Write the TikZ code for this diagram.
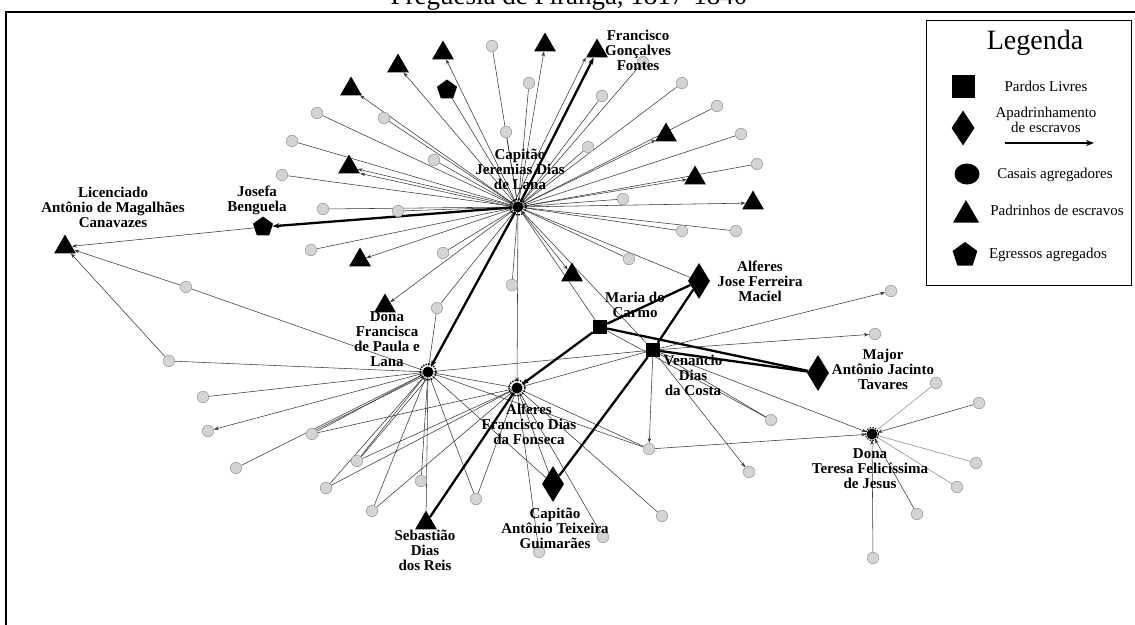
\documentclass[tikz,border=0pt]{standalone}
\usepackage{fontspec}
\setmainfont{Liberation Serif}
\usetikzlibrary{shapes.geometric,arrows.meta,backgrounds}
\begin{document}
\begin{tikzpicture}[x=1pt,y=-1pt,
  gc/.style={circle, fill=black!17, draw=black!38, line width=0.6pt, minimum size=11.5pt, inner sep=0},
  tri/.style={regular polygon, regular polygon sides=3, fill=black, minimum size=25pt, inner sep=0},
  sq/.style={rectangle, fill=black, minimum size=14pt, inner sep=0},
  dia/.style={diamond, fill=black, minimum width=22pt, minimum height=36pt, inner sep=0},
  pent/.style={regular polygon, regular polygon sides=5, fill=black, minimum size=21pt, inner sep=0},
  hub/.style={circle, fill=black, minimum size=11pt, inner sep=0},
  lbl/.style={font=\fontsize{15}{15}\selectfont\bfseries, align=center, inner sep=0},
  legt/.style={font=\fontsize{15}{15}\selectfont, align=center, inner sep=0},
  ed/.style={draw=black!78, line width=0.55pt},
  edl/.style={draw=black!45, line width=0.55pt},
  ar/.style={ed, -{Stealth[length=5pt,width=3.5pt]}},
  tk/.style={draw=black, line width=2.3pt},
  tka/.style={tk, -{Stealth[length=7pt,width=5pt]}}
]
\useasboundingbox (0,0) rectangle (1135,624);
% title (mostly cut off by the top edge)
\node[font=\fontsize{27}{27}\selectfont, anchor=base] (title) at (569,4) {Freguesia de Piranga, 1817-1840};
% frame
\draw[line width=2.5pt] (1140,12) -- (6,12) -- (6,630);

% hubs
\node[hub] (J) at (518,207) {};
\node[hub] (FP) at (428,372) {};
\node[hub] (AF) at (517,388) {};
\node[hub] (TF) at (872,434) {};
% squares
\node[sq] (MC) at (600,327) {};
\node[sq] (VD) at (653,350) {};
% diamonds
\node[dia] (JF) at (699,281) {};
\node[dia] (MA) at (818,373) {};
\node[dia] (CA) at (553,484) {};
% triangles
\node[tri] (t1) at (351,89) {};
\node[tri] (t2) at (398,66) {};
\node[tri] (t3) at (443,53) {};
\node[tri] (t4) at (545,45) {};
\node[tri] (FG) at (597,51) {};
\node[tri] (t6) at (666,135) {};
\node[tri] (t7) at (695,178) {};
\node[tri] (t8) at (753,203) {};
\node[tri] (t9) at (349,167) {};
\node[tri] (t10) at (360,260) {};
\node[tri] (DF) at (385,306) {};
\node[tri] (t12) at (572,275) {};
\node[tri] (LI) at (65,247) {};
\node[tri] (SE) at (426,523) {};
% pentagons
\node[pent] (p1) at (447,90) {};
\node[pent] (JB) at (263,227) {};
% gray circles
\node[gc] (c1) at (492,46) {};
\node[gc] (c2) at (529,83) {};
\node[gc] (c3) at (506,132) {};
\node[gc] (c4) at (317,113) {};
\node[gc] (c5) at (384,118) {};
\node[gc] (c6) at (292,141) {};
\node[gc] (c7) at (434,160) {};
\node[gc] (c8) at (282,175) {};
\node[gc] (c9) at (323,209) {};
\node[gc] (c10) at (398,211) {};
\node[gc] (c11) at (602,96) {};
\node[gc] (c12) at (643,62) {};
\node[gc] (c13) at (682,83) {};
\node[gc] (c14) at (717,106) {};
\node[gc] (c15) at (588,147) {};
\node[gc] (c16) at (741,134) {};
\node[gc] (c17) at (757,164) {};
\node[gc] (c18) at (623,199) {};
\node[gc] (c19) at (311,250) {};
\node[gc] (c20) at (443,253) {};
\node[gc] (c21) at (629,259) {};
\node[gc] (c22) at (512,285) {};
\node[gc] (c23) at (437,308) {};
\node[gc] (c24) at (682,231) {};
\node[gc] (c25) at (736,231) {};
\node[gc] (c26) at (186,287) {};
\node[gc] (c27) at (169,361) {};
\node[gc] (c28) at (203,397) {};
\node[gc] (c29) at (208,431) {};
\node[gc] (c30) at (312,434) {};
\node[gc] (c31) at (236,468) {};
\node[gc] (c32) at (357,461) {};
\node[gc] (c33) at (326,488) {};
\node[gc] (c34) at (421,481) {};
\node[gc] (c35) at (372,511) {};
\node[gc] (c36) at (476,499) {};
\node[gc] (c37) at (539,552) {};
\node[gc] (c38) at (603,537) {};
\node[gc] (c39) at (662,516) {};
\node[gc] (c40) at (649,449) {};
\node[gc] (c41) at (771,420) {};
\node[gc] (c42) at (749,472) {};
\node[gc] (c43) at (891,291) {};
\node[gc] (c44) at (875,334) {};
\node[gc] (c45) at (936,383) {};
\node[gc] (c46) at (979,403) {};
\node[gc] (c47) at (976,463) {};
\node[gc] (c48) at (957,487) {};
\node[gc] (c49) at (917,514) {};
\node[gc] (c50) at (873,558) {};

% hub rings
\foreach \h in {J,FP,AF} \draw[line width=1.3pt, dash pattern=on 1.6pt off 1.1pt] (\h) circle (8pt);
\draw[line width=1.1pt, dash pattern=on 1.4pt off 1.4pt] (TF) circle (6.5pt);

% edges
\begin{scope}[on background layer]
\foreach \n in {c1,c2,c3,c4,c5,c6,c7,c8,c9,c10,c11,c12,c13,c14,c15,c16,c17,c18,c19,c20,c21,c22,c23,c24,c25,p1,MC,VD,JF}
  \draw[ed] (J) -- (\n);
\foreach \n in {t1,t2,t3,t4,t6,t7,t8,t9,t10,DF,t12,AF}
  \draw[ar] (J) -- (\n);
\draw[ar] (J.north west) -- (FG.corner 2);
\draw[ar] (J.west) -- (t9.corner 3);
\draw[tka] (J) -- (FG);
\draw[tka] (J) -- (JB);
\draw[tka] (J) -- (FP);
% Francisca hub
\draw[ed] (c23) -- (FP);
\draw[ed] (FP) -- (c26);
\draw[ar] (c26) -- (LI);
\draw[ar] (c27) -- (LI);
\draw[ar] (JB) -- (LI);
\foreach \n in {c27,c28,c30,c31,c32,c33,c34,SE,c35,c36,VD,c40,CA,AF}
  \draw[ed] (FP) -- (\n);
\draw[ar] (FP) -- (c29);
\draw[ed] (FP.south west) -- (c30.north east);
\draw[ed] (FP.south) -- (c32.north east);
\foreach \n in {c30,c32,c33,c35,c36}
  \draw[ed] (\n) -- (AF);
% Alferes Francisco hub
\foreach \n in {c37,c38,c39,c40,CA,VD}
  \draw[ed] (AF) -- (\n);
\draw[tk] (AF) -- (SE);
\draw[tka] (MC) -- (AF);
\draw[tk] (MC) -- (JF);
\draw[tk] (MC) -- (MA);
\draw[tk] (VD) -- (JF);
\draw[tk] (VD) -- (MA);
\draw[tk] (VD) -- (CA);
\draw[ed] (MC) -- (c41);
% Venancio
\draw[ed] (VD) -- (c41);
\foreach \n in {c43,c44,c40,c42,TF}
  \draw[ar] (VD) -- (\n);
\draw[ar] (c40) -- (TF);
% Teresa
\draw[edl] (c45) -- (TF);
\draw[ar] (c46) -- (TF);
\draw[edl] (c47) -- (TF);
\draw[edl] (c48) -- (TF);
\draw[ar] (c49) -- (TF);
\draw[ar] (c50) -- (TF);
\end{scope}

% labels
\node[lbl] (lJ) at (520,169) {Capitão\\Jeremias Dias\\de Lana};
\node[lbl] (lFG) at (638,50) {Francisco\\Gonçalves\\Fontes};
\node[lbl] (lLI) at (113,207) {Licenciado\\Antônio de Magalhães\\Canavazes};
\node[lbl] (lJB) at (257,200) {Josefa\\Benguela};
\node[lbl] (lDF) at (387,339) {Dona\\Francisca\\de Paula e\\Lana};
\node[lbl] (lMC) at (635,305) {Maria do\\Carmo};
\node[lbl] (lJF) at (760,281) {Alferes\\Jose Ferreira\\Maciel};
\node[lbl] (lVD) at (693,375) {Venâncio\\Dias\\da Costa};
\node[lbl] (lMA) at (883,369) {Major\\Antônio Jacinto\\Tavares};
\node[lbl] (lAF) at (529,424) {Alferes\\Francisco Dias\\da Fonseca};
\node[lbl] (lTF) at (870,469) {Dona\\Teresa Felicíssima\\de Jesus};
\node[lbl] (lCA) at (555,528) {Capitão\\Antônio Teixeira\\Guimarães};
\node[lbl] (lSE) at (425,550) {Sebastião\\Dias\\dos Reis};

% legend
\draw[line width=1pt] (926,20) rectangle (1131,285);
\node[font=\fontsize{28}{28}\selectfont, inner sep=0] (legt) at (1035,43) {Legenda};
\node[rectangle, fill=black, minimum size=23pt, inner sep=0] (lgsq) at (963,86) {};
\node[legt] (lgsqt) at (1046,86) {Pardos Livres};
\node[diamond, fill=black, minimum width=23pt, minimum height=35pt, inner sep=0] (lgdi) at (963,128) {};
\node[legt] (lgdit) at (1046,120) {Apadrinhamento\\de escravos};
\coordinate (la1) at (1005,143);
\coordinate (la2) at (1094,143);
\draw[line width=1.6pt, -{Stealth[length=8pt,width=6pt]}] (la1) -- (la2);
\node[ellipse, fill=black, minimum width=25pt, minimum height=21pt, inner sep=0] (lgci) at (967,174) {};
\node[legt] (lgcit) at (1055,175) {Casais agregadores};
\node[regular polygon, regular polygon sides=3, fill=black, minimum size=30pt, inner sep=0] (lgtr) at (966,215) {};
\node[legt] (lgtrt) at (1057,210) {Padrinhos de escravos};
\node[regular polygon, regular polygon sides=5, fill=black, minimum size=26pt, inner sep=0] (lgpe) at (965,255) {};
\node[legt] (lgpet) at (1048,255) {Egressos agregados};
\end{tikzpicture}
\end{document}
